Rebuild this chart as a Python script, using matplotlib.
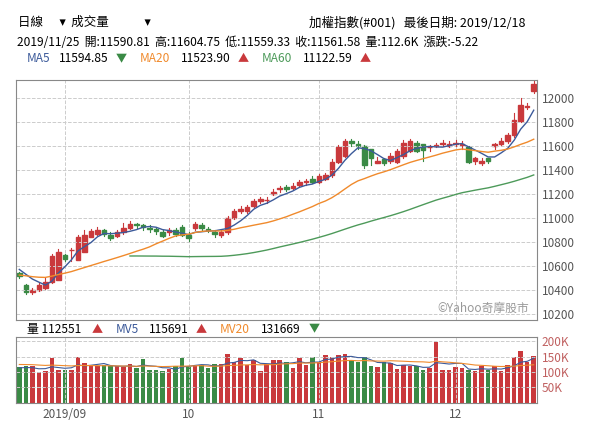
import numpy as np
import matplotlib.pyplot as plt
from matplotlib.patches import Rectangle

plt.rcParams['font.family'] = ['Noto Sans CJK TC', 'DejaVu Sans']

# 60 closes before the window (for moving averages)
prior_closes = [10560, 10600, 10650, 10680, 10700, 10740, 10770, 10800, 10830, 10850,
                10870, 10850, 10840, 10860, 10880, 10900, 10920, 10910, 10930, 10950,
                10930, 10900, 10910, 10920, 10940, 10930, 10910, 10900, 10880, 10870,
                10850, 10830, 10800, 10750, 10700, 10650, 10600, 10550, 10500, 10470,
                10450, 10500, 10550, 10530, 10500, 10470, 10450, 10430, 10470, 10500,
                10530, 10550, 10570, 10530, 10510, 10550, 10580, 10600, 10570, 10590]

opens = [10540, 10440, 10380, 10400, 10420, 10470, 10480, 10690, 10730, 10650,
         10720, 10840, 10870, 10900, 10860, 10850, 10880, 10920, 10950, 10940,
         10920, 10910, 10880, 10880, 10900, 10930, 10860, 10920,
         10940, 10910, 10880, 10860, 10880, 11000, 11060, 11060, 11100, 11140,
         11150, 11200, 11240, 11260, 11250, 11280, 11300, 11330, 11300, 11330,
         11360, 11470, 11520, 11640, 11620, 11600, 11580, 11460, 11490, 11480,
         11470, 11520, 11560, 11630, 11620, 11590, 11600, 11620, 11600, 11620, 11610,
         11590, 11480, 11460, 11500, 11600, 11620, 11640, 11690, 11810, 11930, 12060]
closes = [10520, 10380, 10400, 10440, 10470, 10680, 10720, 10660, 10730, 10840,
          10860, 10890, 10900, 10870, 10830, 10880, 10920, 10950, 10940, 10930,
          10910, 10890, 10850, 10900, 10870, 10860, 10830, 10950,
          10920, 10900, 10870, 10880, 11000, 11060, 11080, 11090, 11140, 11160,
          11150, 11220, 11250, 11240, 11270, 11300, 11310, 11300, 11350, 11360,
          11470, 11590, 11640, 11630, 11600, 11440, 11500, 11480, 11460, 11520,
          11560, 11630, 11640, 11560, 11570, 11590, 11610, 11630, 11620, 11630, 11620,
          11470, 11500, 11480, 11480, 11620, 11640, 11690, 11820, 11940, 11930, 12120]
highs = [10550, 10450, 10420, 10460, 10500, 10700, 10740, 10700, 10750, 10860,
         10900, 10910, 10930, 10910, 10880, 10900, 10960, 10980, 10960, 10950,
         10940, 10920, 10900, 10920, 10920, 10940, 10880, 10970,
         10960, 10930, 10900, 10900, 11020, 11080, 11100, 11110, 11160, 11180,
         11180, 11240, 11270, 11280, 11290, 11320, 11330, 11350, 11370, 11380,
         11490, 11610, 11660, 11660, 11640, 11610, 11520, 11510, 11500, 11540,
         11580, 11650, 11660, 11640, 11590, 11610, 11630, 11650, 11640, 11650, 11640,
         11600, 11510, 11500, 11500, 11630, 11670, 11710, 11880, 12000, 11960, 12150]
lows = [10500, 10370, 10370, 10390, 10410, 10460, 10680, 10640, 10640, 10720,
        10830, 10860, 10860, 10850, 10820, 10840, 10870, 10910, 10920, 10900,
        10880, 10870, 10840, 10860, 10850, 10850, 10810, 10900,
        10900, 10880, 10840, 10840, 10870, 10990, 11040, 11040, 11090, 11130,
        11130, 11190, 11220, 11230, 11240, 11270, 11280, 11290, 11290, 11320,
        11340, 11460, 11510, 11600, 11580, 11420, 11440, 11460, 11440, 11460,
        11460, 11500, 11550, 11550, 11480, 11560, 11590, 11600, 11590, 11600, 11580,
        11460, 11450, 11440, 11460, 11580, 11610, 11630, 11680, 11800, 11910, 12040]
volumes = [115, 120, 118, 100, 102, 145, 108, 106, 108, 150,
           128, 118, 120, 122, 118, 118, 116, 125, 112, 142,
           106, 108, 102, 110, 118, 146, 116, 118,
           122, 114, 126, 126, 158, 132, 146, 122, 140, 102,
           126, 140, 140, 132, 112, 144, 122, 150, 134, 154,
           150, 154, 158, 138, 134, 150, 118, 116, 132, 130,
           110, 124, 118, 118, 106, 112, 198, 108, 106, 116,
           112, 106, 102, 118, 108, 118, 102, 124, 148, 168, 132, 152, 146]
month_labels = ['2019/09', '10', '11', '12']
month_starts = [7, 26, 46, 67]

n = len(closes)
opens, closes, highs, lows = (np.array(a[:n], float) for a in (opens, closes, highs, lows))
volumes = np.array(volumes[:n], float)
x = np.arange(n)
allc = np.concatenate([prior_closes, closes])
def ma(arr, w, off):
    return np.array([arr[off + i - w + 1: off + i + 1].mean() for i in range(n)])
ma5 = ma(allc, 5, 60)
ma20 = ma(allc, 20, 60)
ma60 = ma(allc, 60, 60)
mv5 = np.convolve(np.concatenate([volumes[:4], volumes]), np.ones(5) / 5, 'valid')
mv20 = np.convolve(np.concatenate([np.full(19, 125.0), volumes]), np.ones(20) / 20, 'valid')

red, green = '#c9393c', '#3a8a45'
fig = plt.figure(figsize=(5.94, 4.36), dpi=100)
ax = fig.add_axes([0.027, 0.266, 0.877, 0.55])
axv = fig.add_axes([0.027, 0.076, 0.877, 0.152])

for i in x:
    up = closes[i] >= opens[i]
    c = red if up else green
    ax.plot([i, i], [lows[i], highs[i]], color=c, lw=0.8)
    b = min(opens[i], closes[i]); h = max(abs(closes[i] - opens[i]), 4)
    ax.add_patch(Rectangle((i - 0.35, b), 0.7, h, color=c))
    axv.bar(i, volumes[i], width=0.7, color=c)
ax.plot(x, ma5, color='#3c5a9a', lw=1)
ax.plot(x, ma20, color='#f08a2c', lw=1)
ax.plot(x[17:], ma60[17:], color='#4d9a5a', lw=1)
axv.plot(x, mv5, color='#3c5a9a', lw=0.8)
axv.plot(x, mv20, color='#f08a2c', lw=0.8)

for a in (ax, axv):
    a.set_xlim(-0.5, n - 0.5)
    a.yaxis.tick_right()
    a.set_xticks(month_starts)
    a.grid(True, color='#cccccc', ls='--', lw=0.7)
    for s in a.spines.values():
        s.set_color('#888888')
    a.tick_params(length=0, labelsize=8.5, colors='#555555')
ax.set_xticklabels([])
ax.set_ylim(10150, 12150)
ax.set_yticks(np.arange(10200, 12001, 200))
axv.set_ylim(0, 215)
axv.set_yticks([50, 100, 150, 200])
axv.set_yticklabels(['50K', '100K', '150K', '200K'], color='#c06060')
axv.set_xticklabels(month_labels)
ax.text(0.985, 0.02, '©Yahoo奇摩股市', transform=ax.transAxes, ha='right', va='bottom',
        fontsize=8.5, color='#999999')

fig.text(0.03, 0.94, '日線      ▾  成交量             ▾', fontsize=9)
fig.text(0.52, 0.94, '加權指數(#001)   最後日期: 2019/12/18', fontsize=9)
fig.text(0.028, 0.894, '2019/11/25  開:11590.81  高:11604.75  低:11559.33  收:11561.58  量:112.6K  漲跌:-5.22', fontsize=8.6)
y0 = 0.857
fig.text(0.045, y0, 'MA5', color='#3c5a9a', fontsize=8.6)
fig.text(0.1, y0, '11594.85', fontsize=8.6)
fig.text(0.195, y0, '▼', color=green, fontsize=8)
fig.text(0.235, y0, 'MA20', color='#f08a2c', fontsize=8.6)
fig.text(0.305, y0, '11523.90', fontsize=8.6)
fig.text(0.4, y0, '▲', color=red, fontsize=8)
fig.text(0.44, y0, 'MA60', color='#4d9a5a', fontsize=8.6)
fig.text(0.51, y0, '11122.59', fontsize=8.6)
fig.text(0.605, y0, '▲', color=red, fontsize=8)
y1 = 0.237
fig.text(0.045, y1, '量 112551', fontsize=8.6)
fig.text(0.155, y1, '▲', color=red, fontsize=8)
fig.text(0.195, y1, 'MV5', color='#3c5a9a', fontsize=8.6)
fig.text(0.25, y1, '115691', fontsize=8.6)
fig.text(0.33, y1, '▲', color=red, fontsize=8)
fig.text(0.37, y1, 'MV20', color='#f08a2c', fontsize=8.6)
fig.text(0.44, y1, '131669', fontsize=8.6)
fig.text(0.52, y1, '▼', color=green, fontsize=8)

fig.savefig('out.png', dpi=100)
